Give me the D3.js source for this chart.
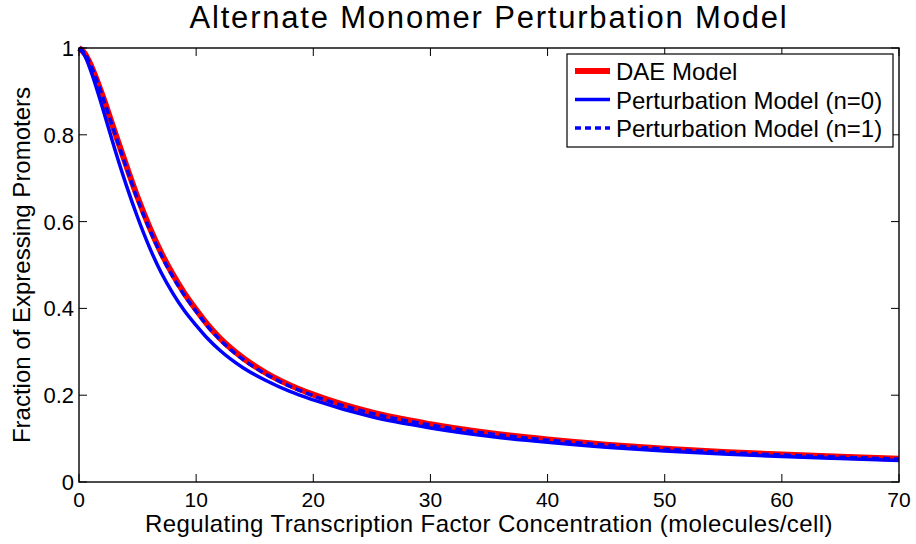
<!DOCTYPE html>
<html>
<head>
<meta charset="utf-8">
<script src="https://cdn.jsdelivr.net/npm/d3@7"></script>
<style>
  body { margin: 0; background: #fff; }
  svg text { font-family: "Liberation Sans", Arial, Helvetica, sans-serif; fill: #000; }
</style>
</head>
<body>
<svg width="916" height="544"></svg>
<script>
// concentrations (molecules/cell)
var xVals = [0, 0.5, 1, 2, 3, 4, 5, 6, 7, 8, 9, 10, 11, 12, 14, 16, 18, 20, 25, 30, 35, 40, 45, 50, 55, 60, 65, 70];
// fraction of expressing promoters
var daeModel = [1.0, 0.987, 0.961, 0.891, 0.811, 0.732, 0.656, 0.5885, 0.529, 0.4785, 0.4348, 0.3968, 0.3617, 0.332, 0.2857, 0.2506, 0.2232, 0.2012, 0.1601, 0.133, 0.1127, 0.0978, 0.0861, 0.0768, 0.0693, 0.0632, 0.0581, 0.0537];
var pertN0 = [1.0, 0.982, 0.948, 0.863, 0.772, 0.687, 0.610, 0.5417, 0.4833, 0.4354, 0.3946, 0.361, 0.330, 0.304, 0.2632, 0.2332, 0.2086, 0.1891, 0.150, 0.1244, 0.1053, 0.0913, 0.0802, 0.0715, 0.0645, 0.0588, 0.054, 0.0495];
var pertN1 = [1.0, 0.987, 0.9602, 0.889, 0.808, 0.728, 0.6515, 0.5837, 0.524, 0.4735, 0.430, 0.3932, 0.3582, 0.3287, 0.2826, 0.2478, 0.2206, 0.1988, 0.1581, 0.1313, 0.1112, 0.0965, 0.0849, 0.0757, 0.0683, 0.0622, 0.0572, 0.0528];

var xTicks = [0, 10, 20, 30, 40, 50, 60, 70];
var yTicks = [0, 0.2, 0.4, 0.6, 0.8, 1];
var yTickLabels = ["0", "0.2", "0.4", "0.6", "0.8", "1"];
var seriesNames = ["DAE Model", "Perturbation Model (n=0)", "Perturbation Model (n=1)"];

var svg = d3.select("svg");
var margin = {top: 48, right: 17, bottom: 62, left: 79};
var width = 916 - margin.left - margin.right,
    height = 544 - margin.top - margin.bottom;

var x = d3.scaleLinear().domain([0, 70]).range([0, width]);
var y = d3.scaleLinear().domain([0, 1]).range([height, 0]);

var g = svg.append("g")
  .attr("transform", "translate(" + margin.left + "," + margin.top + ")");

// curves
var line = function(vals) {
  return d3.line()
    .x(function(d, i) { return x(xVals[i]); })
    .y(function(d) { return y(d); })
    .curve(d3.curveMonotoneX)(vals);
};

g.append("path").attr("d", line(daeModel))
  .attr("fill", "none").attr("stroke", "#ff0000").attr("stroke-width", 6);
g.append("path").attr("d", line(pertN0))
  .attr("fill", "none").attr("stroke", "#0000ff").attr("stroke-width", 3.5);
g.append("path").attr("d", line(pertN1))
  .attr("fill", "none").attr("stroke", "#0000ff").attr("stroke-width", 3.5)
  .attr("stroke-dasharray", "7,4");

// box with inward ticks on all sides
g.append("rect")
  .attr("width", width).attr("height", height)
  .attr("fill", "none").attr("stroke", "#000").attr("stroke-width", 1.4);

var tickLen = 8;
xTicks.forEach(function(t) {
  g.append("line").attr("x1", x(t)).attr("x2", x(t)).attr("y1", height).attr("y2", height - tickLen)
    .attr("stroke", "#000");
  g.append("line").attr("x1", x(t)).attr("x2", x(t)).attr("y1", 0).attr("y2", tickLen)
    .attr("stroke", "#000");
  g.append("text").attr("x", x(t)).attr("y", height + 25)
    .attr("text-anchor", "middle").style("font-size", "21px").text(t);
});
yTicks.forEach(function(t, i) {
  g.append("line").attr("x1", 0).attr("x2", tickLen).attr("y1", y(t)).attr("y2", y(t))
    .attr("stroke", "#000");
  g.append("line").attr("x1", width).attr("x2", width - tickLen).attr("y1", y(t)).attr("y2", y(t))
    .attr("stroke", "#000");
  g.append("text").attr("x", -5).attr("y", y(t) + 8)
    .attr("text-anchor", "end").style("font-size", "22px").text(yTickLabels[i]);
});

// legend
var lg = svg.append("g").attr("transform", "translate(567,54)");
lg.append("rect").attr("width", 326).attr("height", 93)
  .attr("fill", "#fff").attr("stroke", "#000").attr("stroke-width", 1.2);
var styles = [
  {color: "#ff0000", w: 6, dash: null},
  {color: "#0000ff", w: 3.5, dash: null},
  {color: "#0000ff", w: 3.5, dash: "6,4"}
];
seriesNames.forEach(function(name, i) {
  var cy = 17 + i * 28.5;
  lg.append("line").attr("x1", 8).attr("x2", 43).attr("y1", cy).attr("y2", cy)
    .attr("stroke", styles[i].color).attr("stroke-width", styles[i].w)
    .attr("stroke-dasharray", styles[i].dash);
  lg.append("text").attr("x", 49).attr("y", cy + 9).style("font-size", "24px").text(name);
});

// titles
svg.append("text").attr("x", margin.left + width / 2).attr("y", 28)
  .attr("text-anchor", "middle").style("font-size", "31px").style("letter-spacing", "1.8px")
  .text("Alternate Monomer Perturbation Model");
svg.append("text").attr("x", margin.left + width / 2).attr("y", 532)
  .attr("text-anchor", "middle").style("font-size", "24px").style("letter-spacing", "0.4px")
  .text("Regulating Transcription Factor Concentration (molecules/cell)");
svg.append("text")
  .attr("transform", "translate(30," + (margin.top + height / 2) + ") rotate(-90)")
  .attr("text-anchor", "middle").style("font-size", "24px")
  .text("Fraction of Expressing Promoters");
</script>
</body>
</html>
